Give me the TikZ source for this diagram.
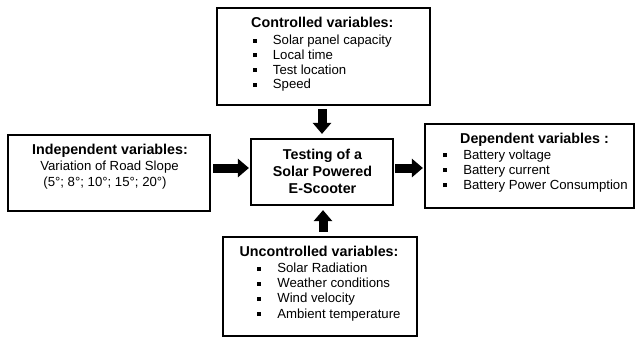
\documentclass[tikz,border=0pt]{standalone}
\usepackage{fontspec}
\setmainfont{Liberation Sans}
\usetikzlibrary{arrows.meta}
\newcommand\mybul{\makebox[20.4pt][l]{\rule[1.8pt]{4pt}{4pt}}}
\begin{document}
\begin{tikzpicture}[x=1pt,y=-1pt,
  box/.style={draw, line width=2.2pt, inner sep=0pt},
  bigarrow/.style={line width=9pt, -{Triangle[width=18pt,length=11pt]}},
  txt/.style={inner sep=0pt, anchor=base west, font=\fontsize{13.2}{15}\selectfont},
  ctxt/.style={inner sep=0pt, anchor=base, font=\fontsize{13.2}{15}\selectfont},
  ttl/.style={inner sep=0pt, anchor=base west, font=\fontsize{14.3}{16}\selectfont\bfseries},
  cttl/.style={inner sep=0pt, anchor=base, font=\fontsize{14.3}{16}\selectfont\bfseries}]
\useasboundingbox (0,0) rectangle (637,338);
% boxes
\node[box, minimum width=213pt, minimum height=97pt] (ctrl) at (323.5,56.5) {};
\node[box, minimum width=202pt, minimum height=76pt] (indep) at (109,173) {};
\node[box, minimum width=142pt, minimum height=66pt] (test) at (322,172) {};
\node[box, minimum width=209pt, minimum height=84pt] (dep) at (529.5,166) {};
\node[box, minimum width=194pt, minimum height=99pt] (unctrl) at (320,286.5) {};
% controlled
\node[ttl] (ct) at (251,27.3) {Controlled variables:};
\node[txt] (c1) at (252.3,44.3) {\mybul Solar panel capacity};
\node[txt] (c2) at (252.3,59) {\mybul Local time};
\node[txt] (c3) at (252.3,74) {\mybul Test location};
\node[txt] (c4) at (252.3,88.7) {\mybul Speed};
% independent
\node[cttl] (it) at (110,154.3) {Independent variables:};
\node[ctxt] (i1) at (109.5,170) {Variation of Road Slope};
\node[ctxt] (i2) at (105,186) {(5°; 8°; 10°; 15°; 20°)};
% center
\node[cttl] (t1) at (322.5,159.3) {Testing of a};
\node[cttl] (t2) at (322.5,176.7) {Solar Powered};
\node[cttl] (t3) at (322.5,193.3) {E-Scooter};
% dependent
\node[ttl] (dt) at (460,143.3) {Dependent variables :};
\node[txt] (d1) at (442.7,159) {\mybul Battery voltage};
\node[txt] (d2) at (442.7,174) {\mybul Battery current};
\node[txt] (d3) at (442.7,189) {\mybul Battery Power Consumption};
% uncontrolled
\node[ttl] (ut) at (239.3,256) {Uncontrolled variables:};
\node[txt] (u1) at (256.7,272.7) {\mybul Solar Radiation};
\node[txt] (u2) at (256.7,287.7) {\mybul Weather conditions};
\node[txt] (u3) at (256.7,302.7) {\mybul Wind velocity};
\node[txt] (u4) at (256.7,318) {\mybul Ambient temperature};
% arrows
\coordinate (ay) at (0,168);
\coordinate (topx) at (322,0);
\coordinate (botx) at (323,0);
\draw[bigarrow, shorten <=3pt, shorten >=4pt] (ctrl.south -| topx) -- (test.north -| topx);
\draw[bigarrow, shorten <=2pt, shorten >=1pt] (indep.east |- ay) -- (test.west |- ay);
\draw[bigarrow, shorten <=1pt, shorten >=1pt] (test.east |- ay) -- (dep.west |- ay);
\draw[bigarrow, shorten <=4pt, shorten >=4pt] (unctrl.north -| botx) -- (test.south -| botx);
\end{tikzpicture}
\end{document}
